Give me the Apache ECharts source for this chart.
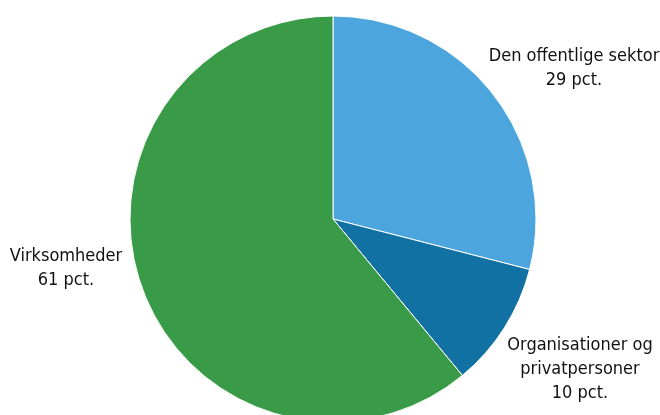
<!DOCTYPE html>
<html>
<head>
<meta charset="utf-8">
<script src="https://cdn.jsdelivr.net/npm/echarts@6/dist/echarts.min.js"></script>
<style>
  html, body { margin: 0; padding: 0; background: #fff; }
  #chart { width: 660px; height: 415px; }
</style>
</head>
<body>
<div id="chart"></div>
<script>
// data
const categories = ["Den offentlige sektor", "Organisationer og\nprivatpersoner", "Virksomheder"];
const shares = [29, 10, 61];
const colors = ["#4ca6dd", "#1271a3", "#399a48"];

// where each label sits (block centre)
const labelSpots = [[574, 68], [580, 369], [66, 268]];

const chart = echarts.init(document.getElementById("chart"));

chart.setOption({
  animation: false,
  series: [{
    type: "pie",
    center: [333, 219],
    radius: 203,
    startAngle: 90,
    clockwise: true,
    data: categories.map((name, i) => ({
      name,
      value: shares[i],
      itemStyle: { color: colors[i] }
    })),
    itemStyle: { borderColor: "#ffffff", borderWidth: 1 },
    label: {
      show: true,
      position: "outside",
      formatter: (p) => p.name + "\n" + p.value + " pct.",
      fontFamily: "Liberation Sans Narrow, DejaVu Sans Condensed, sans-serif",
      fontSize: 18,
      lineHeight: 24,
      color: "#111111",
      align: "center",
      overflow: "none",
      width: 300
    },
    labelLine: { show: false },
    labelLayout: (params) => {
      const spot = labelSpots[params.dataIndex];
      return { x: spot[0], y: spot[1], align: "center", verticalAlign: "middle" };
    },
    emphasis: { disabled: true }
  }]
});
</script>
</body>
</html>
